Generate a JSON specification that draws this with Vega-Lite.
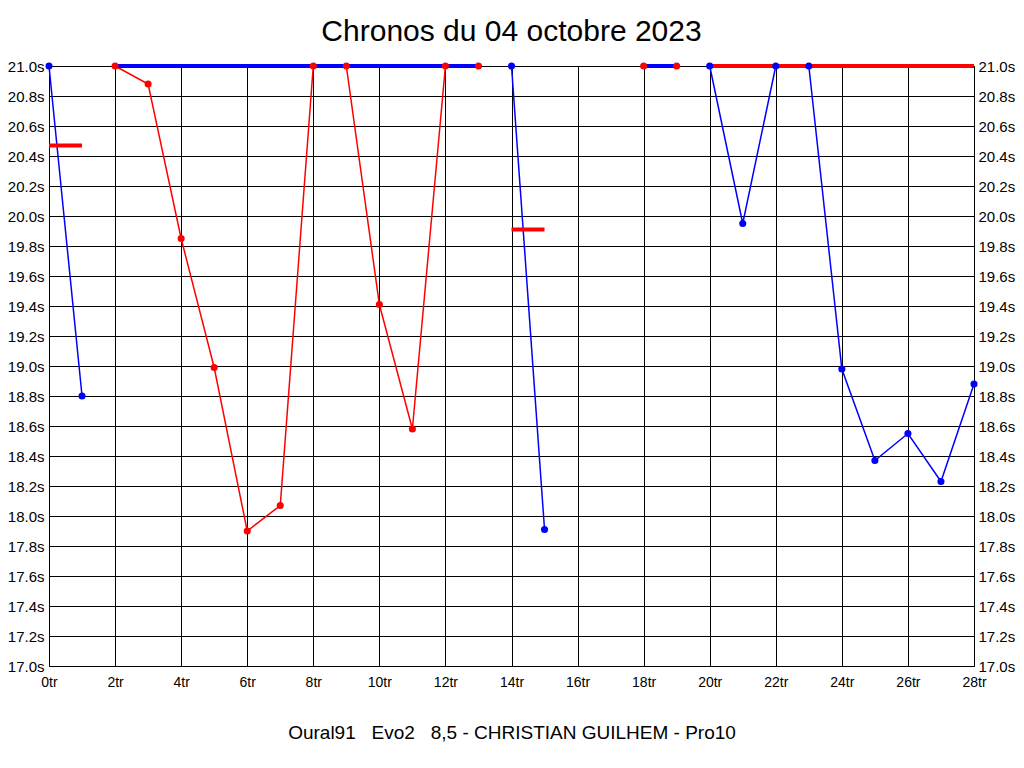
{
  "$schema": "https://vega.github.io/schema/vega-lite/v6.json",
  "width": 925,
  "height": 600,
  "autosize": "none",
  "padding": {"left": 49, "top": 66, "right": 50, "bottom": 102},
  "background": "white",
  "title": {"text": "Chronos du 04 octobre 2023", "fontSize": 30, "font": "Liberation Sans", "fontWeight": "normal", "color": "black", "offset": 12, "anchor": "middle"},
  "config": {"view": {"stroke": "black", "strokeWidth": 1}},
  "datasets": {
    "pts": [
      {"lap": 0, "t": 21.0, "driver": "A", "seg": 1},
      {"lap": 1, "t": 18.8, "driver": "A", "seg": 1},
      {"lap": 14, "t": 21.0, "driver": "A", "seg": 2},
      {"lap": 15, "t": 17.91, "driver": "A", "seg": 2},
      {"lap": 20, "t": 21.0, "driver": "A", "seg": 3},
      {"lap": 21, "t": 19.95, "driver": "A", "seg": 3},
      {"lap": 22, "t": 21.0, "driver": "A", "seg": 3},
      {"lap": 23, "t": 21.0, "driver": "A", "seg": 3},
      {"lap": 24, "t": 18.98, "driver": "A", "seg": 3},
      {"lap": 25, "t": 18.37, "driver": "A", "seg": 3},
      {"lap": 26, "t": 18.55, "driver": "A", "seg": 3},
      {"lap": 27, "t": 18.23, "driver": "A", "seg": 3},
      {"lap": 28, "t": 18.88, "driver": "A", "seg": 3},
      {"lap": 2, "t": 21.0, "driver": "B", "seg": 4},
      {"lap": 3, "t": 20.88, "driver": "B", "seg": 4},
      {"lap": 4, "t": 19.85, "driver": "B", "seg": 4},
      {"lap": 5, "t": 18.99, "driver": "B", "seg": 4},
      {"lap": 6, "t": 17.9, "driver": "B", "seg": 4},
      {"lap": 7, "t": 18.07, "driver": "B", "seg": 4},
      {"lap": 8, "t": 21.0, "driver": "B", "seg": 4},
      {"lap": 9, "t": 21.0, "driver": "B", "seg": 4},
      {"lap": 10, "t": 19.41, "driver": "B", "seg": 4},
      {"lap": 11, "t": 18.58, "driver": "B", "seg": 4},
      {"lap": 12, "t": 21.0, "driver": "B", "seg": 4},
      {"lap": 13, "t": 21.0, "driver": "B", "seg": 4},
      {"lap": 18, "t": 21.0, "driver": "B", "seg": 5},
      {"lap": 19, "t": 21.0, "driver": "B", "seg": 5}
    ],
    "bars": [
      {"x1": 2, "x2": 13, "t": 21.0, "driver": "A"},
      {"x1": 18, "x2": 19, "t": 21.0, "driver": "A"},
      {"x1": 20, "x2": 28, "t": 21.0, "driver": "B"},
      {"x1": 0, "x2": 1, "t": 20.47, "driver": "B"},
      {"x1": 14, "x2": 15, "t": 19.91, "driver": "B"}
    ]
  },
  "layer": [
    {
      "data": {"name": "pts"},
      "mark": {"type": "line", "strokeWidth": 1.5},
      "encoding": {
        "x": {
          "field": "lap", "type": "quantitative",
          "scale": {"domain": [0, 28], "nice": false, "zero": false},
          "axis": {
            "values": [0, 2, 4, 6, 8, 10, 12, 14, 16, 18, 20, 22, 24, 26, 28],
            "labelExpr": "datum.value + 'tr'",
            "grid": true, "gridColor": "black", "gridOpacity": 1, "gridWidth": 1,
            "ticks": false, "domain": false,
            "labelFont": "Liberation Sans", "labelFontSize": 14, "labelColor": "black",
            "labelPadding": 9, "labelFlush": false,
            "title": "Oural91\u00a0\u00a0 Evo2\u00a0\u00a0 8,5 - CHRISTIAN GUILHEM - Pro10",
            "titleFont": "Liberation Sans", "titleFontSize": 19, "titleFontWeight": "normal",
            "titleColor": "black", "titlePadding": 34
          }
        },
        "y": {
          "field": "t", "type": "quantitative",
          "scale": {"domain": [17, 21], "nice": false, "zero": false},
          "axis": {
            "orient": "left",
            "values": [17, 17.2, 17.4, 17.6, 17.8, 18, 18.2, 18.4, 18.6, 18.8, 19, 19.2, 19.4, 19.6, 19.8, 20, 20.2, 20.4, 20.6, 20.8, 21],
            "labelExpr": "format(datum.value, '.1f') + 's'",
            "grid": true, "gridColor": "black", "gridOpacity": 1, "gridWidth": 1,
            "ticks": false, "domain": false,
            "labelFont": "Liberation Sans", "labelFontSize": 15, "labelColor": "black",
            "labelPadding": 5, "labelFlush": false, "title": null
          }
        },
        "color": {"field": "driver", "type": "nominal", "scale": {"domain": ["A", "B"], "range": ["#0000ff", "#ff0000"]}, "legend": null},
        "detail": {"field": "seg"}
      }
    },
    {
      "data": {"name": "bars"},
      "mark": {"type": "rule", "strokeWidth": 4, "strokeCap": "butt"},
      "encoding": {
        "x": {"field": "x1", "type": "quantitative"},
        "x2": {"field": "x2"},
        "y": {
          "field": "t", "type": "quantitative",
          "axis": {
            "orient": "right",
            "values": [17, 17.2, 17.4, 17.6, 17.8, 18, 18.2, 18.4, 18.6, 18.8, 19, 19.2, 19.4, 19.6, 19.8, 20, 20.2, 20.4, 20.6, 20.8, 21],
            "labelExpr": "format(datum.value, '.1f') + 's'",
            "grid": false, "ticks": false, "domain": false,
            "labelFont": "Liberation Sans", "labelFontSize": 15, "labelColor": "black",
            "labelPadding": 4, "labelFlush": false, "title": null
          }
        },
        "color": {"field": "driver", "type": "nominal", "legend": null}
      }
    },
    {
      "data": {"name": "pts"},
      "mark": {"type": "circle", "size": 50, "opacity": 1},
      "encoding": {
        "x": {"field": "lap", "type": "quantitative"},
        "y": {"field": "t", "type": "quantitative", "axis": null},
        "color": {"field": "driver", "type": "nominal", "legend": null}
      }
    }
  ],
  "resolve": {"axis": {"y": "independent"}}
}
